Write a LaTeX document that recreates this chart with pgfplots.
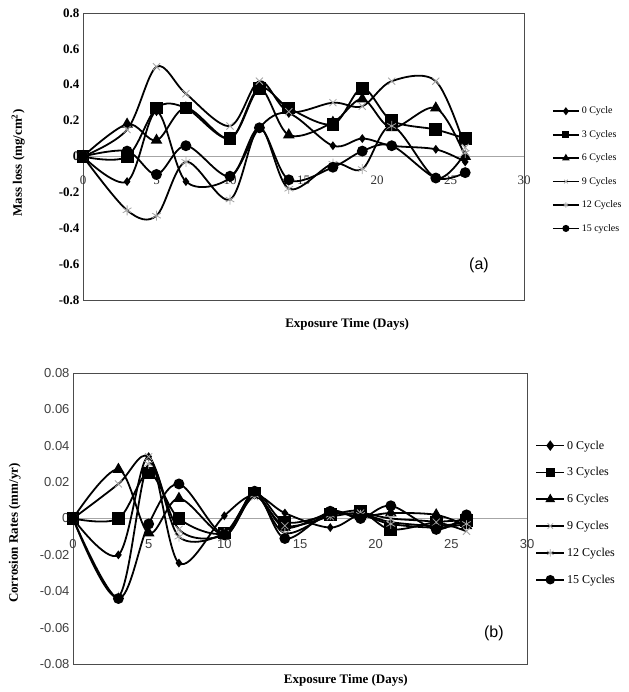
\documentclass[border=0pt]{standalone}
\usepackage{pgfplots}
\pgfplotsset{compat=1.18}
\usepackage{pgfplotstable}
\usepackage{fontspec}
\setmainfont{Liberation Serif}
\newfontfamily\arial{Liberation Sans}

% mass loss (mg/cm^2)
\pgfplotstableread{
x   c0     c3    c6    c9    c12    c15
0   0      0     0     0     0      0
3   -0.14  0.00  0.18  0.15  -0.30  0.03
5   0.25   0.27  0.09  0.50  -0.33  -0.10
7   -0.14  0.27  0.27  0.35  -0.03  0.06
10  -0.12  0.10  0.10  0.17  -0.24  -0.11
12  0.16   0.38  0.38  0.42  0.16   0.16
14  0.24   0.27  0.12  0.25  -0.18  -0.13
17  0.06   0.18  0.19  0.30  -0.04  -0.06
19  0.10   0.38  0.32  0.28  -0.07  0.03
21  0.06   0.20  0.16  0.42  0.17   0.06
24  0.04   0.15  0.27  0.42  -0.12  -0.12
26  -0.03  0.10  0.00  0.05  0.02   -0.09
}\massloss

% corrosion rates (mm/yr)
\pgfplotstableread{
x   c0      c3      c6      c9      c12     c15
0   0       0       0       0       0       0
3   -0.020  0.000   0.027   0.019   -0.043  -0.044
5   0.034   0.025   -0.008  0.034   0.030   -0.003
7   -0.0245 0.000   0.011   -0.006  -0.010  0.019
10  0.0015  -0.008  -0.009  -0.009  -0.008  -0.009
12  0.013   0.014   0.013   0.012   0.013   0.015
14  0.003   -0.002  -0.005  -0.004  -0.008  -0.011
17  -0.005  0.002   0.003   0.001   0.002   0.004
19  0.002   0.004   0.001   0.003   0.002   0.000
21  -0.002  -0.006  0.003   0.000   -0.003  0.007
24  -0.004  -0.002  0.002   -0.002  -0.005  -0.006
26  -0.002  -0.001  -0.004  -0.007  -0.003  0.002
}\corrrate

\pgfplotsset{
  panel/.style={
    scale only axis,
    xmin=0, xmax=30, xtick={0,5,...,30},
    scaled y ticks=false,
    major tick length=0pt,
    axis line style={black!70, line width=0.8pt},
    extra y ticks={0}, extra y tick labels={},
    extra y tick style={ymajorgrids=true, major grid style={black!35, line width=0.8pt}},
    xticklabel style={yshift=128pt},
    legend cell align=left,
    every axis plot/.append style={smooth, tension=0.55, black, line width=1.8pt},
  },
  d0/.style={mark=diamond*, mark size=3pt},
  d3/.style={mark=square*, mark size=5.5pt},
  d6/.style={mark=triangle*, mark size=5pt},
  d9/.style={mark=x, mark size=5pt, mark options={gray!70, line width=0.8pt}},
  d12/.style={mark=asterisk, mark size=5pt, mark options={gray!70, line width=0.8pt}},
  d15/.style={mark=*, mark size=4.5pt},
}

\begin{document}
\begin{tikzpicture}[x=1pt, y=1pt]
\useasboundingbox (0,0) rectangle (628,692);

\begin{axis}[panel,
  at={(83pt,392pt)}, anchor=south west,
  width=441pt, height=287pt,
  ymin=-0.8, ymax=0.8, ytick={-0.8,-0.6,...,0.8},
  yticklabels={-0.8,-0.6,-0.4,-0.2,0,0.2,0.4,0.6,0.8},
  yticklabel style={font=\fontsize{13}{15}\selectfont\bfseries},
  xticklabel style={font=\fontsize{13}{15}\selectfont, text=black!80},
  xticklabels={0,5,10,15,20,25,30},
  xlabel={Exposure Time (Days)},
  ylabel={Mass loss (mg/cm\textsuperscript{2})},
  xlabel style={at={(axis description cs:0.599,-0.084)}, anchor=center, font=\fontsize{13}{15}\selectfont\bfseries},
  ylabel style={at={(axis description cs:-0.147,0.477)}, anchor=center, font=\fontsize{13}{15}\selectfont\bfseries},
  legend image code/.code={
    \draw[mark repeat=2, mark phase=2, #1, mark size=2.6pt] plot coordinates {(0pt,0pt) (13pt,0pt) (26pt,0pt)};},
  legend style={at={(axis description cs:1.063,0.68)}, anchor=north west, draw=none, fill=none,
    font=\fontsize{10}{12}\selectfont, row sep=11pt, inner sep=0pt},
]
\addplot[d0] table[x=x, y=c0] {\massloss};
\addlegendentry{0 Cycle}
\addplot[d3] table[x=x, y=c3] {\massloss};
\addlegendentry{3 Cycles}
\addplot[d6] table[x=x, y=c6] {\massloss};
\addlegendentry{6 Cycles}
\addplot[d9] table[x=x, y=c9] {\massloss};
\addlegendentry{9 Cycles}
\addplot[d12] table[x=x, y=c12] {\massloss};
\addlegendentry{12 Cycles}
\addplot[d15] table[x=x, y=c15] {\massloss};
\addlegendentry{15 cycles}
\node[font=\arial\fontsize{16}{18}\selectfont] at (axis description cs:0.898,0.122) {(a)};
\end{axis}

\begin{axis}[panel,
  at={(73pt,28pt)}, anchor=south west,
  width=454pt, height=291pt,
  ymin=-0.08, ymax=0.08, ytick={-0.08,-0.06,...,0.08},
  yticklabels={-0.08,-0.06,-0.04,-0.02,0,0.02,0.04,0.06,0.08},
  yticklabel style={font=\arial\fontsize{13}{15}\selectfont, text=black!75},
  xticklabel style={font=\arial\fontsize{13}{15}\selectfont, text=black!75},
  xticklabels={0,5,10,15,20,25,30},
  xlabel={Exposure Time (Days)},
  ylabel={Corrosion Rates (mm/yr)},
  xlabel style={at={(axis description cs:0.601,-0.055)}, anchor=center, font=\fontsize{13}{15}\selectfont\bfseries},
  ylabel style={at={(axis description cs:-0.128,0.45)}, anchor=center, font=\fontsize{13}{15}\selectfont\bfseries},
  legend image code/.code={
    \draw[mark repeat=2, mark phase=2, #1, mark size=3.8pt] plot coordinates {(0pt,0pt) (14pt,0pt) (28pt,0pt)};},
  legend style={at={(axis description cs:1.018,0.775)}, anchor=north west, draw=none, fill=none,
    font=\fontsize{12}{14}\selectfont, row sep=13pt, inner sep=0pt},
]
\addplot[d0] table[x=x, y=c0] {\corrrate};
\addlegendentry{0 Cycle}
\addplot[d3] table[x=x, y=c3] {\corrrate};
\addlegendentry{3 Cycles}
\addplot[d6] table[x=x, y=c6] {\corrrate};
\addlegendentry{6 Cycles}
\addplot[d9] table[x=x, y=c9] {\corrrate};
\addlegendentry{9 Cycles}
\addplot[d12] table[x=x, y=c12] {\corrrate};
\addlegendentry{12 Cycles}
\addplot[d15] table[x=x, y=c15] {\corrrate};
\addlegendentry{15 Cycles}
\node[font=\arial\fontsize{16}{18}\selectfont] at (axis description cs:0.927,0.107) {(b)};
\end{axis}
\end{tikzpicture}
\end{document}
